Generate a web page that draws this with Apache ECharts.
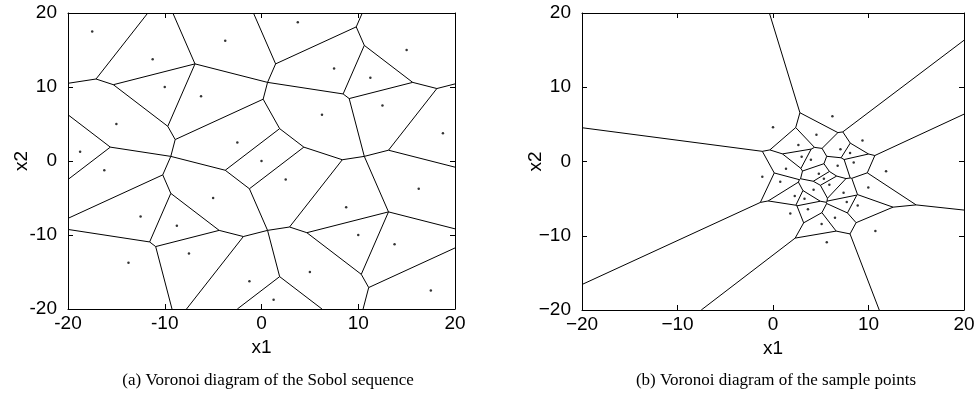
<!DOCTYPE html>
<html><head><meta charset="utf-8">
<script src="https://cdn.jsdelivr.net/npm/echarts@6/dist/echarts.min.js"></script>
<style>html,body{margin:0;padding:0;background:#fff}#c{width:979px;height:403px}</style>
</head><body><div id="c"></div>
<script>
// ---- data ----
const sobolX = [0, 10, -10, -5, 15, 5, -15, -12.5, 7.5, 17.5, -2.5, -7.5, 12.5, 2.5, -17.5,
  -16.25, 3.75, 13.75, -6.25, -1.25, 18.75, 8.75, -11.25, -13.75, 6.25, 16.25, -3.75, -8.75, 11.25, 1.25, -18.75];
const sobolY = [0, -10, 10, -5, 15, -15, 5, -7.5, 12.5, -17.5, 2.5, -12.5, 7.5, -2.5, 17.5,
  -1.25, 18.75, -11.25, 8.75, -16.25, 3.75, -6.25, 13.75, -13.75, 6.25, -3.75, 16.25, -8.75, 11.25, -18.75, 1.25];
const sampleX = [6.22, 0.0, 4.55, 9.37, 2.66, 7.06, 8.07, 3.0, 3.97, 8.45, 6.77, 11.84, 1.36, -1.12, 4.8,
  5.33, 5.9, 0.76, 4.25, 9.98, 7.39, 2.28, 3.3, 7.72, 8.87, 3.66, 1.81, 6.49, 5.09, 10.72, 5.63];
const sampleY = [6.08, 4.6, 3.6, 2.84, 2.21, 1.64, 1.15, 0.63, 0.23, -0.15, -0.58, -1.3, -0.99, -2.05, -1.66,
  -2.34, -3.12, -2.74, -3.82, -3.5, -4.21, -4.64, -5.02, -5.47, -5.94, -6.43, -7.0, -7.58, -8.42, -9.36, -10.88];
const tickValues = [-20, -10, 0, 10, 20];
const axisMin = -20, axisMax = 20, tickStep = 10;
const xName = 'x1', yName = 'x2';
const captionA = '(a) Voronoi diagram of the Sobol sequence';
const captionB = '(b) Voronoi diagram of the sample points';

// ---- Voronoi cells by half-plane clipping of the axis box ----
function voronoiEdges(xs, ys, lo, hi) {
  const n = xs.length, segs = [];
  for (let i = 0; i < n; i++) {
    let poly = [[lo, lo], [hi, lo], [hi, hi], [lo, hi]];
    let labs = [-1, -1, -1, -1];
    for (let j = 0; j < n; j++) {
      if (j === i) continue;
      const a = 2 * (xs[j] - xs[i]), b = 2 * (ys[j] - ys[i]);
      const c = xs[j] * xs[j] + ys[j] * ys[j] - xs[i] * xs[i] - ys[i] * ys[i];
      const f = p => a * p[0] + b * p[1] - c;
      const out = [], ol = [];
      const m = poly.length;
      for (let k = 0; k < m; k++) {
        const P = poly[k], Q = poly[(k + 1) % m], lab = labs[k];
        const fp = f(P), fq = f(Q);
        const inP = fp <= 1e-9, inQ = fq <= 1e-9;
        if (inP && inQ) { out.push(P); ol.push(lab); }
        else if (inP && !inQ) {
          const t = fp / (fp - fq);
          out.push(P); ol.push(lab);
          out.push([P[0] + t * (Q[0] - P[0]), P[1] + t * (Q[1] - P[1])]); ol.push(j);
        } else if (!inP && inQ) {
          const t = fp / (fp - fq);
          out.push([P[0] + t * (Q[0] - P[0]), P[1] + t * (Q[1] - P[1])]); ol.push(lab);
        }
      }
      poly = out; labs = ol;
      if (!poly.length) break;
    }
    for (let k = 0; k < poly.length; k++) {
      if (labs[k] > i) {
        const P = poly[k], Q = poly[(k + 1) % poly.length];
        if (Math.hypot(P[0] - Q[0], P[1] - Q[1]) > 1e-9) segs.push({ coords: [P, Q] });
      }
    }
  }
  return segs;
}

const fmtA = v => String(v);
const fmtB = v => (v < 0 ? '\u2212' + (-v) : String(v));
const FONT = 'Liberation Sans';
const FS = 19;

function makeAxes(grid, fmt) {
  const base = {
    type: 'value', min: axisMin, max: axisMax, interval: tickStep, gridIndex: grid,
    splitLine: { show: false },
    axisLine: { show: true, onZero: false, lineStyle: { color: '#000', width: 1 } },
    axisTick: { show: true, inside: true, length: 5, lineStyle: { color: '#000' } },
  };
  const lbl = { show: true, color: '#000', fontSize: FS, fontFamily: FONT, formatter: fmt, showMinLabel: true, showMaxLabel: true };
  return {
    x: [
      Object.assign({}, base, { position: 'bottom', axisLabel: Object.assign({}, lbl, { margin: 5 }),
        name: xName, nameLocation: 'middle', nameGap: 29, nameMoveOverlap: false,
        nameTextStyle: { color: '#000', fontSize: FS, fontFamily: FONT } }),
      Object.assign({}, base, { position: 'top', axisLabel: { show: false } })
    ],
    y: [
      Object.assign({}, base, { position: 'left', axisLabel: Object.assign({}, lbl, { margin: 11 }),
        name: yName, nameLocation: 'middle', nameGap: 37, nameMoveOverlap: false,
        nameTextStyle: { color: '#000', fontSize: FS, fontFamily: FONT } }),
      Object.assign({}, base, { position: 'right', axisLabel: { show: false } })
    ]
  };
}

const axA = makeAxes(0, fmtA), axB = makeAxes(1, fmtB);
const chart = echarts.init(document.getElementById('c'), null, { renderer: 'canvas' });
chart.setOption({
  animation: false,
  backgroundColor: '#fff',
  grid: [
    { left: 68, top: 13, width: 387, height: 296 },
    { left: 582, top: 13, width: 382, height: 297 }
  ],
  xAxis: [axA.x[0], axA.x[1], axB.x[0], axB.x[1]],
  yAxis: [axA.y[0], axA.y[1], axB.y[0], axB.y[1]],
  series: [
    { type: 'lines', coordinateSystem: 'cartesian2d', xAxisIndex: 0, yAxisIndex: 0, silent: true,
      lineStyle: { color: '#000', width: 1, opacity: 1 }, data: voronoiEdges(sobolX, sobolY, axisMin, axisMax) },
    { type: 'scatter', xAxisIndex: 0, yAxisIndex: 0, silent: true, symbolSize: 2.5,
      itemStyle: { color: '#000' }, data: sobolX.map((x, i) => [x, sobolY[i]]) },
    { type: 'lines', coordinateSystem: 'cartesian2d', xAxisIndex: 2, yAxisIndex: 2, silent: true,
      lineStyle: { color: '#000', width: 1, opacity: 1 }, data: voronoiEdges(sampleX, sampleY, axisMin, axisMax) },
    { type: 'scatter', xAxisIndex: 2, yAxisIndex: 2, silent: true, symbolSize: 2.5,
      itemStyle: { color: '#000' }, data: sampleX.map((x, i) => [x, sampleY[i]]) }
  ],
  graphic: [
    { type: 'text', x: 268, y: 381, silent: true,
      style: { text: captionA, fill: '#000', fontSize: 17, fontFamily: 'Liberation Serif', align: 'center', verticalAlign: 'middle' } },
    { type: 'text', x: 776, y: 381, silent: true,
      style: { text: captionB, fill: '#000', fontSize: 17, fontFamily: 'Liberation Serif', align: 'center', verticalAlign: 'middle' } }
  ]
});
</script></body></html>
